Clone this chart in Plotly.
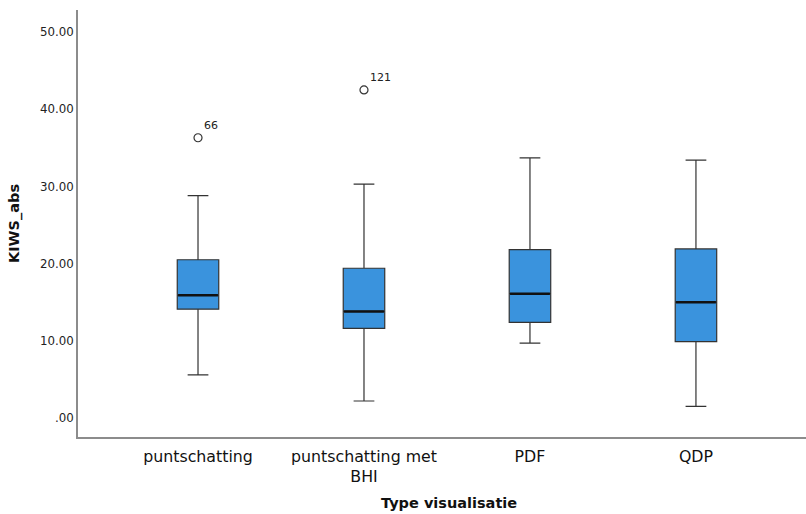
import plotly.graph_objects as go

categories = ["puntschatting", "puntschatting met<br>BHI", "PDF", "QDP"]
lower = [5.6, 2.2, 9.7, 1.5]
q1 = [14.1, 11.6, 12.4, 9.9]
median = [15.9, 13.8, 16.1, 15.0]
q3 = [20.5, 19.4, 21.8, 21.9]
upper = [28.8, 30.3, 33.7, 33.4]
outlier_x = [0, 1]
outlier_y = [36.3, 42.5]
outlier_labels = ["66", "121"]
ytick_vals = [0, 10, 20, 30, 40, 50]
ytick_text = [".00", "10.00", "20.00", "30.00", "40.00", "50.00"]

xs = list(range(len(categories)))
BOX_W = 0.25

fig = go.Figure()
fig.add_trace(go.Box(
    x=xs, q1=q1, median=median, q3=q3, lowerfence=lower, upperfence=upper,
    width=BOX_W, whiskerwidth=0.5, fillcolor="#3a93dd",
    line=dict(color="#333333", width=1.2), boxpoints=False, showlegend=False,
    hoverinfo="skip",
))
# thick median lines
mx, my = [], []
for i, m in zip(xs, median):
    mx += [i - BOX_W / 2 + 0.005, i + BOX_W / 2 - 0.005, None]
    my += [m, m, None]
fig.add_trace(go.Scatter(x=mx, y=my, mode="lines",
                         line=dict(color="#111111", width=2.6),
                         showlegend=False, hoverinfo="skip"))
fig.add_trace(go.Scatter(
    x=outlier_x, y=outlier_y, mode="markers+text", text=outlier_labels,
    textposition="top right",
    textfont=dict(family="DejaVu Sans", size=11, color="#222"),
    marker=dict(symbol="circle-open", size=8, color="#333", line=dict(width=1.2)),
    showlegend=False, hoverinfo="skip"))

fig.update_layout(
    width=806, height=514, margin=dict(l=78, r=0, t=10, b=77),
    paper_bgcolor="white", plot_bgcolor="white",
    font=dict(family="DejaVu Sans", color="#222"),
    annotations=[dict(text="<b>Type visualisatie</b>", xref="paper", yref="paper",
                      x=0.509, y=0, yshift=-66, xanchor="center", yanchor="middle",
                      showarrow=False, font=dict(size=14.5, color="#111"))],
)
fig.update_xaxes(
    range=[-0.723, 3.663], tickvals=xs, ticktext=categories,
    showline=True, linecolor="#8c8c8c", linewidth=1.5, showgrid=False,
    zeroline=False, ticks="", ticklabelstandoff=4,
    tickfont=dict(size=15.8, family="DejaVu Sans", color="#111"),
)
fig.update_yaxes(
    range=[-2.46, 52.85], tickvals=ytick_vals, ticktext=ytick_text,
    showline=True, linecolor="#8c8c8c", linewidth=1.5, showgrid=False,
    zeroline=False, ticks="", tickfont=dict(size=11.8, family="DejaVu Sans", color="#222"),
    title=dict(text="<b>KIWS_abs</b>", font=dict(size=14.5, color="#111"), standoff=17),
)
fig.write_html("out.html")
